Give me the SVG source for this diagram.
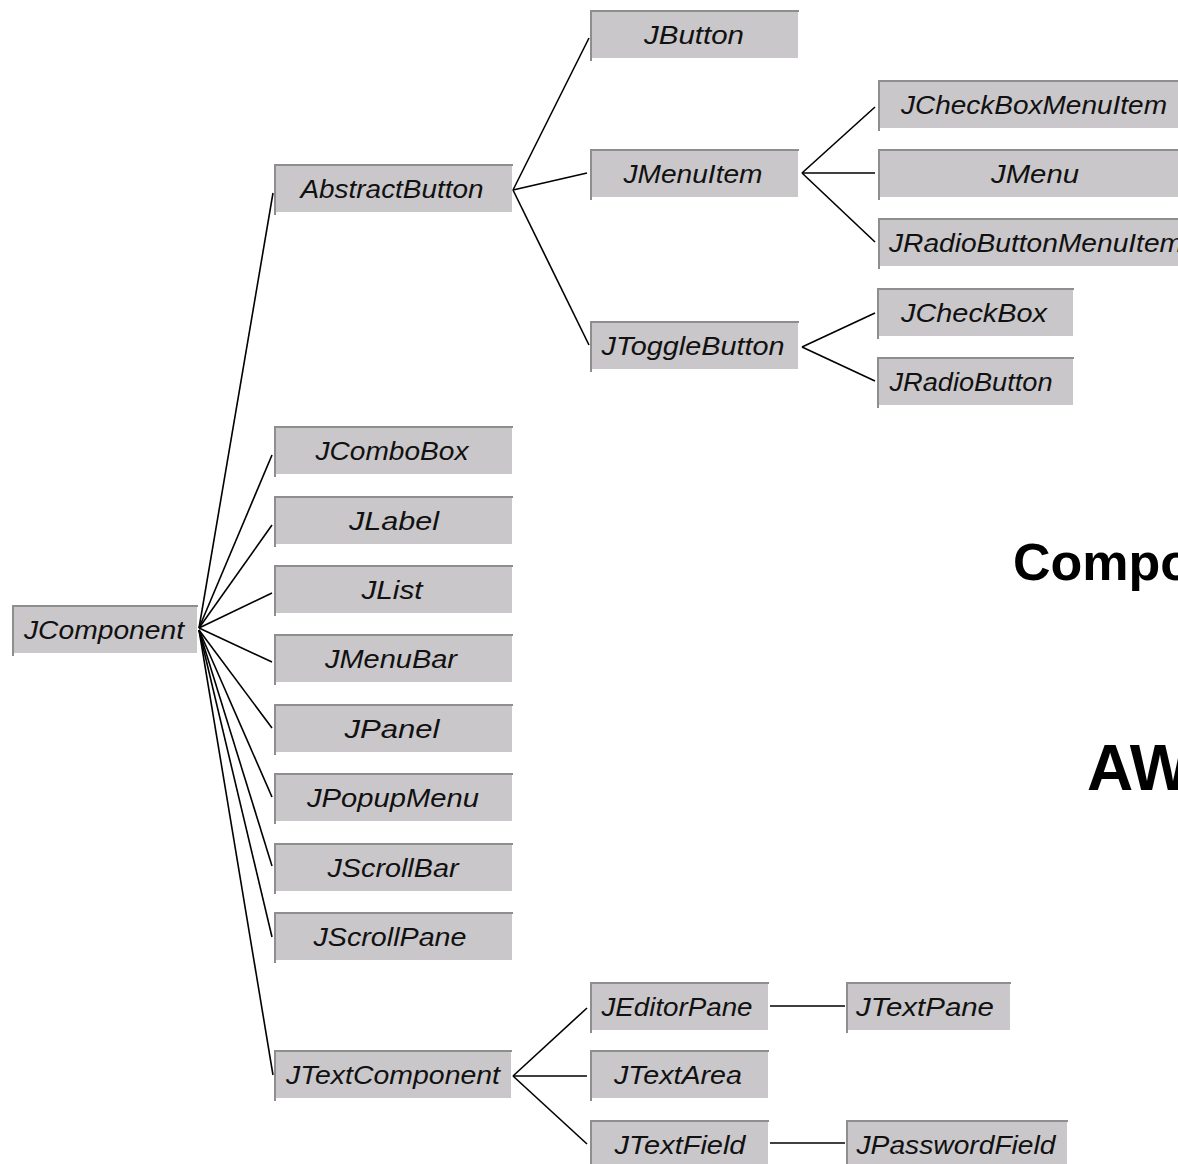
<svg xmlns="http://www.w3.org/2000/svg" width="1178" height="1164" viewBox="0 0 1178 1164">
<style>
.box{fill:#c9c7c9}
.edge{stroke:#8e8e8e;stroke-width:2;fill:none}
.lbl{font-family:"Liberation Sans",Arial,sans-serif;font-style:italic;font-size:26px;fill:#111;text-anchor:middle}
.big{font-family:"Liberation Sans",Arial,sans-serif;font-weight:bold;fill:#000}
.con line{stroke:#000;stroke-width:1.6}
</style>
<rect width="1178" height="1164" fill="#fff"/>
<g class="con" id="connectors">
<line x1="199" y1="628" x2="273" y2="193"/>
<line x1="199" y1="628" x2="272" y2="455"/>
<line x1="199" y1="628" x2="272" y2="525"/>
<line x1="199" y1="628" x2="272" y2="593"/>
<line x1="199" y1="628" x2="272" y2="662"/>
<line x1="199" y1="630" x2="272" y2="728"/>
<line x1="199" y1="630" x2="272" y2="797"/>
<line x1="199" y1="630" x2="272" y2="866"/>
<line x1="199" y1="630" x2="272" y2="937"/>
<line x1="199" y1="630" x2="273" y2="1075"/>
<line x1="513" y1="190" x2="589" y2="38"/>
<line x1="513" y1="190" x2="587" y2="173"/>
<line x1="513" y1="190" x2="589" y2="345"/>
<line x1="802" y1="173" x2="875" y2="107"/>
<line x1="802" y1="173" x2="875" y2="173"/>
<line x1="802" y1="173" x2="875" y2="242"/>
<line x1="802" y1="347" x2="875" y2="313"/>
<line x1="802" y1="347" x2="875" y2="381"/>
<line x1="513" y1="1076" x2="587" y2="1008"/>
<line x1="513" y1="1076" x2="587" y2="1076"/>
<line x1="513" y1="1076" x2="587" y2="1144"/>
<line x1="770" y1="1006" x2="845" y2="1006"/>
<line x1="770" y1="1143" x2="845" y2="1143"/>
</g>
<defs>
<g id="b"/>
</defs>
<g id="JComponent"><rect class="box" x="12" y="605" width="185" height="48"/><path class="edge" d="M13 656V606H198"/><text class="lbl" x="104" y="639" textLength="160" lengthAdjust="spacingAndGlyphs">JComponent</text></g>
<g id="AbstractButton"><rect class="box" x="274" y="164" width="238" height="48"/><path class="edge" d="M275 215V165H513"/><text class="lbl" x="392" y="198" textLength="183" lengthAdjust="spacingAndGlyphs">AbstractButton</text></g>
<g id="JButton"><rect class="box" x="590" y="10" width="208" height="48"/><path class="edge" d="M591 61V11H799"/><text class="lbl" x="694" y="44" textLength="100" lengthAdjust="spacingAndGlyphs">JButton</text></g>
<g id="JMenuItem"><rect class="box" x="590" y="149" width="208" height="48"/><path class="edge" d="M591 200V150H799"/><text class="lbl" x="693" y="183" textLength="139" lengthAdjust="spacingAndGlyphs">JMenuItem</text></g>
<g id="JToggleButton"><rect class="box" x="590" y="321" width="208" height="48"/><path class="edge" d="M591 372V322H799"/><text class="lbl" x="693" y="355" textLength="183" lengthAdjust="spacingAndGlyphs">JToggleButton</text></g>
<g id="JCheckBoxMenuItem"><rect class="box" x="878" y="80" width="312" height="48"/><path class="edge" d="M879 131V81H1190"/><text class="lbl" x="1034" y="114" textLength="266" lengthAdjust="spacingAndGlyphs">JCheckBoxMenuItem</text></g>
<g id="JMenu"><rect class="box" x="878" y="149" width="312" height="48"/><path class="edge" d="M879 200V150H1190"/><text class="lbl" x="1035" y="183" textLength="88" lengthAdjust="spacingAndGlyphs">JMenu</text></g>
<g id="JRadioButtonMenuItem"><rect class="box" x="878" y="218" width="312" height="48"/><path class="edge" d="M879 269V219H1190"/><text class="lbl" x="1036" y="252" textLength="294" lengthAdjust="spacingAndGlyphs">JRadioButtonMenuItem</text></g>
<g id="JCheckBox"><rect class="box" x="877" y="288" width="196" height="48"/><path class="edge" d="M878 339V289H1074"/><text class="lbl" x="974" y="322" textLength="146" lengthAdjust="spacingAndGlyphs">JCheckBox</text></g>
<g id="JRadioButton"><rect class="box" x="877" y="357" width="196" height="48"/><path class="edge" d="M878 408V358H1074"/><text class="lbl" x="971" y="391" textLength="163" lengthAdjust="spacingAndGlyphs">JRadioButton</text></g>
<g id="JComboBox"><rect class="box" x="274" y="426" width="238" height="48"/><path class="edge" d="M275 477V427H513"/><text class="lbl" x="392" y="460" textLength="153" lengthAdjust="spacingAndGlyphs">JComboBox</text></g>
<g id="JLabel"><rect class="box" x="274" y="496" width="238" height="48"/><path class="edge" d="M275 547V497H513"/><text class="lbl" x="394" y="530" textLength="90" lengthAdjust="spacingAndGlyphs">JLabel</text></g>
<g id="JList"><rect class="box" x="274" y="565" width="238" height="48"/><path class="edge" d="M275 616V566H513"/><text class="lbl" x="392" y="599" textLength="61" lengthAdjust="spacingAndGlyphs">JList</text></g>
<g id="JMenuBar"><rect class="box" x="274" y="634" width="238" height="48"/><path class="edge" d="M275 685V635H513"/><text class="lbl" x="391" y="668" textLength="132" lengthAdjust="spacingAndGlyphs">JMenuBar</text></g>
<g id="JPanel"><rect class="box" x="274" y="704" width="238" height="48"/><path class="edge" d="M275 755V705H513"/><text class="lbl" x="392" y="738" textLength="95" lengthAdjust="spacingAndGlyphs">JPanel</text></g>
<g id="JPopupMenu"><rect class="box" x="274" y="773" width="238" height="48"/><path class="edge" d="M275 824V774H513"/><text class="lbl" x="393" y="807" textLength="172" lengthAdjust="spacingAndGlyphs">JPopupMenu</text></g>
<g id="JScrollBar"><rect class="box" x="274" y="843" width="238" height="48"/><path class="edge" d="M275 894V844H513"/><text class="lbl" x="393" y="877" textLength="131" lengthAdjust="spacingAndGlyphs">JScrollBar</text></g>
<g id="JScrollPane"><rect class="box" x="274" y="912" width="238" height="48"/><path class="edge" d="M275 963V913H513"/><text class="lbl" x="390" y="946" textLength="153" lengthAdjust="spacingAndGlyphs">JScrollPane</text></g>
<g id="JTextComponent"><rect class="box" x="274" y="1050" width="237" height="48"/><path class="edge" d="M275 1101V1051H512"/><text class="lbl" x="393" y="1084" textLength="214" lengthAdjust="spacingAndGlyphs">JTextComponent</text></g>
<g id="JEditorPane"><rect class="box" x="590" y="982" width="178" height="48"/><path class="edge" d="M591 1033V983H769"/><text class="lbl" x="677" y="1016" textLength="151" lengthAdjust="spacingAndGlyphs">JEditorPane</text></g>
<g id="JTextArea"><rect class="box" x="590" y="1050" width="178" height="48"/><path class="edge" d="M591 1101V1051H769"/><text class="lbl" x="678" y="1084" textLength="128" lengthAdjust="spacingAndGlyphs">JTextArea</text></g>
<g id="JTextField"><rect class="box" x="590" y="1120" width="178" height="48"/><path class="edge" d="M591 1171V1121H769"/><text class="lbl" x="680" y="1154" textLength="131" lengthAdjust="spacingAndGlyphs">JTextField</text></g>
<g id="JTextPane"><rect class="box" x="846" y="982" width="164" height="48"/><path class="edge" d="M847 1033V983H1011"/><text class="lbl" x="925" y="1016" textLength="138" lengthAdjust="spacingAndGlyphs">JTextPane</text></g>
<g id="JPasswordField"><rect class="box" x="846" y="1120" width="221" height="48"/><path class="edge" d="M847 1171V1121H1068"/><text class="lbl" x="956" y="1154" textLength="199" lengthAdjust="spacingAndGlyphs">JPasswordField</text></g>
<text class="big" x="1013" y="580" font-size="52">Compo</text>
<text class="big" x="1087" y="790" font-size="64">AW</text>
</svg>
